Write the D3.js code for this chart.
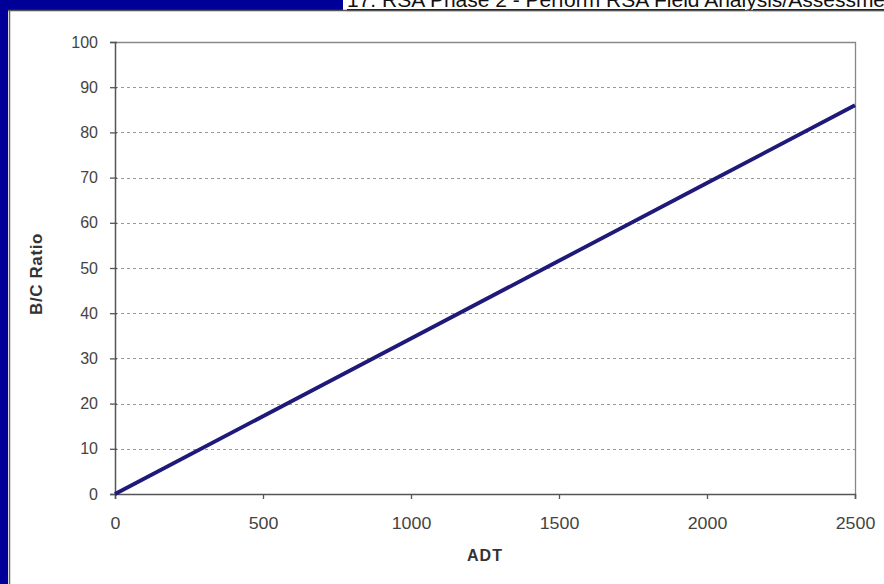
<!DOCTYPE html>
<html>
<head>
<meta charset="utf-8">
<script src="https://cdn.jsdelivr.net/npm/d3@7"></script>
<style>
  html, body { margin: 0; padding: 0; background: #ffffff; }
  svg { display: block; }
</style>
</head>
<body>
<script>
// Benefit/cost ratio as a function of average daily traffic
const adtValues = [0, 500, 1000, 1500, 2000, 2500];
const bcRatio = [0, 17.2, 34.4, 51.6, 68.8, 86];
const xTicks = [0, 500, 1000, 1500, 2000, 2500];
const yTicks = [0, 10, 20, 30, 40, 50, 60, 70, 80, 90, 100];
const headerText = "17.  RSA Phase 2 - Perform RSA Field Analysis/Assessment";
const xTitle = "ADT";
const yTitle = "B/C Ratio";

const W = 884, H = 584;
const svg = d3.select("body").append("svg").attr("width", W).attr("height", H);
const font = "Arial, 'Liberation Sans', sans-serif";

// slide background and frame
svg.append("rect").attr("width", W).attr("height", H).attr("fill", "#ffffff");
svg.append("rect").attr("x", 0).attr("y", 0).attr("width", 343).attr("height", 10).attr("fill", "#000099");
svg.append("rect").attr("x", 0).attr("y", 0).attr("width", 8).attr("height", H).attr("fill", "#000099");
svg.append("text")
  .attr("x", 347).attr("y", 7)
  .attr("font-family", font)
  .attr("font-size", 21)
  .attr("fill", "#111")
  .attr("text-decoration", "underline")
  .text(headerText);
svg.append("line").attr("x1", 8).attr("x2", W).attr("y1", 10.5).attr("y2", 10.5)
  .attr("stroke", "#555").attr("stroke-width", 1.5);
svg.append("line").attr("x1", 9.5).attr("x2", 9.5).attr("y1", 10).attr("y2", H)
  .attr("stroke", "#666").attr("stroke-width", 1.5);

// plot area
const plotLeft = 115, plotRight = 855, plotTop = 42, plotBottom = 494;
const x = d3.scaleLinear().domain([0, 2500]).range([plotLeft, plotRight]);
const y = d3.scaleLinear().domain([0, 100]).range([plotBottom, plotTop]);

// dashed gridlines
svg.append("g").selectAll("line")
  .data(yTicks.filter(d => d > 0 && d < 100))
  .join("line")
  .attr("x1", plotLeft).attr("x2", plotRight)
  .attr("y1", d => Math.round(y(d)) + 0.5).attr("y2", d => Math.round(y(d)) + 0.5)
  .attr("stroke", "#9a9a9a").attr("stroke-width", 1)
  .attr("stroke-dasharray", "3,3");

// plot frame (top and right)
svg.append("path")
  .attr("d", `M${plotLeft},${plotTop + 0.5}H${plotRight + 0.5}V${plotBottom}`)
  .attr("fill", "none").attr("stroke", "#888").attr("stroke-width", 1.3);

// y axis
const yAxis = svg.append("g").attr("transform", `translate(${plotLeft},0)`)
  .call(d3.axisLeft(y).tickValues(yTicks).tickFormat(d3.format("d")).tickSize(5).tickPadding(12));
yAxis.select(".domain").attr("stroke", "#555").attr("stroke-width", 1.5);
yAxis.selectAll(".tick line").attr("stroke", "#555").attr("stroke-width", 1.3).attr("x2", -5).attr("x1", 2);
yAxis.selectAll(".tick text").attr("font-family", font).attr("font-size", 16).attr("fill", "#444");

// x axis
const xAxis = svg.append("g").attr("transform", `translate(0,${plotBottom})`)
  .call(d3.axisBottom(x).tickValues(xTicks).tickFormat(d3.format("d")).tickSize(5).tickPadding(18));
xAxis.select(".domain").attr("stroke", "#555").attr("stroke-width", 1.5);
xAxis.selectAll(".tick line").attr("stroke", "#555").attr("stroke-width", 1.3);
xAxis.selectAll(".tick text").attr("font-family", font).attr("font-size", 16.5).attr("fill", "#444")
  .attr("transform", "scale(1.08,1)");

// axis titles
svg.append("text")
  .attr("transform", `translate(42,${(plotTop + plotBottom) / 2 + 6}) rotate(-90)`)
  .attr("text-anchor", "middle")
  .attr("font-family", font).attr("font-size", 17).attr("font-weight", "bold").attr("fill", "#333")
  .attr("letter-spacing", 0.6)
  .text(yTitle);
svg.append("text")
  .attr("x", (plotLeft + plotRight) / 2).attr("y", 561)
  .attr("text-anchor", "middle")
  .attr("font-family", font).attr("font-size", 16).attr("font-weight", "bold").attr("fill", "#333")
  .attr("letter-spacing", 1)
  .text(xTitle);

// data line
const line = d3.line().x((d, i) => x(adtValues[i])).y(d => y(d));
svg.append("path")
  .datum(bcRatio)
  .attr("d", line)
  .attr("fill", "none")
  .attr("stroke", "#1f1a7a")
  .attr("stroke-width", 3.8);
</script>
</body>
</html>
